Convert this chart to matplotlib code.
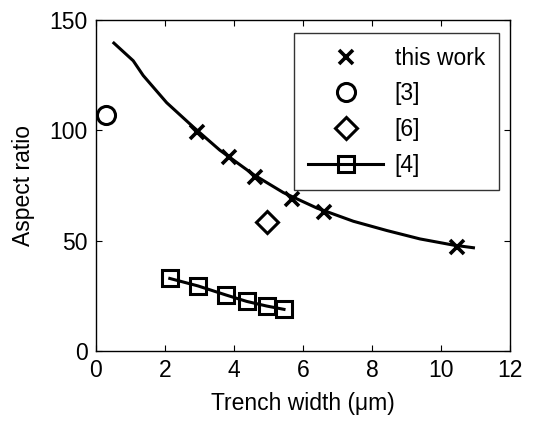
import matplotlib
matplotlib.use("Agg")
import matplotlib.pyplot as plt

plt.rcParams['font.family'] = ['Liberation Sans', 'DejaVu Sans']

# this work (measured points)
work_x = [2.94, 3.87, 4.62, 5.68, 6.61, 10.45]
work_y = [99.1, 87.8, 78.7, 69.0, 62.8, 47.1]
# fitted curve for this work
fit_x = [0.52, 1.08, 1.37, 2.05, 2.82, 3.59, 4.56, 5.43, 6.40, 7.46, 8.43, 9.39, 10.36, 10.94]
fit_y = [139.5, 131.5, 124.8, 112.5, 101.5, 91.0, 80.0, 71.8, 64.8, 58.8, 54.6, 50.8, 48.0, 46.8]
# [3]
ref3_x = [0.29]
ref3_y = [106.9]
# [6]
ref6_x = [4.95]
ref6_y = [58.6]
# [4]
ref4_x = [2.14, 2.96, 3.77, 4.37, 4.95, 5.45]
ref4_y = [32.9, 29.5, 25.4, 22.5, 20.4, 18.9]

fig = plt.figure(figsize=(5.42, 4.23), dpi=100)
ax = fig.add_axes([0.177, 0.170, 0.764, 0.783])

ax.plot(fit_x, fit_y, color='black', lw=2.2, zorder=2)
ax.plot(work_x, work_y, ls='none', marker='x', ms=10, mew=2.6, color='black',
        label='this work', zorder=3)
ax.plot(ref3_x, ref3_y, ls='none', marker='o', ms=13, mew=2.2, mfc='none',
        mec='black', label='[3]')
ax.plot(ref6_x, ref6_y, ls='none', marker='D', ms=11, mew=2.2, mfc='none',
        mec='black', label='[6]')
ax.plot(ref4_x, ref4_y, ls='-', color='black', lw=2.2, marker='s', ms=11,
        mew=2.2, mfc='none', mec='black', label='[4]')

ax.set_xlim(0, 12)
ax.set_ylim(0, 150)
ax.set_xticks([0, 2, 4, 6, 8, 10, 12])
ax.set_yticks([0, 50, 100, 150])
ax.tick_params(direction='in', top=True, right=True, length=4, width=0.8,
               labelsize=16.5, pad=6)
for s in ax.spines.values():
    s.set_linewidth(1.0)

ax.set_xlabel('Trench width (\u03bcm)', fontsize=16.5, labelpad=7)
ax.set_ylabel('Aspect ratio', fontsize=16.5, labelpad=10)

leg = ax.legend(loc='upper right', bbox_to_anchor=(0.973, 0.960), fontsize=16.5,
                frameon=True, fancybox=False, edgecolor='black',
                handlelength=3.3, labelspacing=0.55, handletextpad=0.5,
                borderpad=0.6, borderaxespad=0.0)
leg.get_frame().set_linewidth(1.0)

fig.savefig('out.png', dpi=100)
